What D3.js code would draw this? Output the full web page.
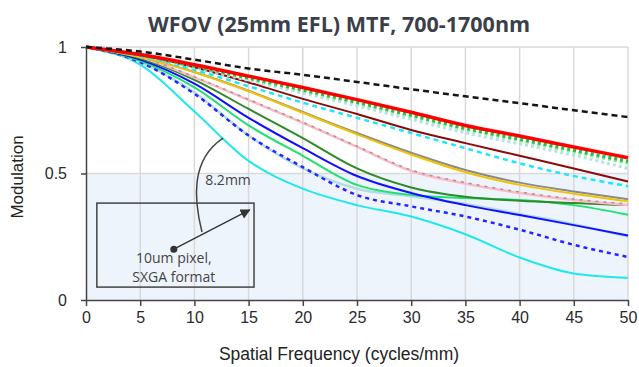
<!DOCTYPE html>
<html>
<head>
<meta charset="utf-8">
<script src="https://cdn.jsdelivr.net/npm/d3@7"></script>
<style>
  body { margin: 0; background: #fff; }
</style>
</head>
<body>
<svg id="chart" width="639" height="367"></svg>
<script>
// spatial frequency samples (cycles/mm)
const freq = [0, 5, 10, 15, 20, 25, 30, 35, 40, 45, 50];
const xTicks = [0, 5, 10, 15, 20, 25, 30, 35, 40, 45, 50];
const yTicks = [0, 0.5, 1];

// MTF curves
const diffLimit   = [1, 0.982, 0.95, 0.915, 0.89, 0.862, 0.833, 0.805, 0.778, 0.75, 0.723];
const redSolid    = [1, 0.97, 0.93, 0.885, 0.84, 0.792, 0.742, 0.69, 0.648, 0.605, 0.562];
const greenDot    = [1, 0.968, 0.925, 0.878, 0.831, 0.782, 0.731, 0.679, 0.636, 0.592, 0.548];
const ltGreenDot  = [1, 0.967, 0.922, 0.874, 0.826, 0.777, 0.725, 0.673, 0.63, 0.585, 0.54];
const ltCyanDot   = [1, 0.965, 0.918, 0.868, 0.818, 0.767, 0.714, 0.661, 0.617, 0.572, 0.52];
const maroon      = [1, 0.968, 0.92, 0.86, 0.795, 0.735, 0.672, 0.62, 0.57, 0.52, 0.468];
const cyanDash    = [1, 0.965, 0.91, 0.845, 0.78, 0.72, 0.66, 0.6, 0.54, 0.49, 0.45];
const graySolid   = [1, 0.961, 0.901, 0.827, 0.743, 0.66, 0.582, 0.514, 0.464, 0.429, 0.398];
const gold        = [1, 0.96, 0.9, 0.825, 0.74, 0.655, 0.575, 0.505, 0.455, 0.42, 0.39];
const pink        = [1, 0.96, 0.88, 0.79, 0.7, 0.605, 0.51, 0.46, 0.423, 0.395, 0.375];
const grayDash    = [1, 0.961, 0.882, 0.793, 0.703, 0.608, 0.514, 0.464, 0.427, 0.399, 0.38];
const darkGreen   = [1, 0.955, 0.87, 0.755, 0.64, 0.52, 0.445, 0.408, 0.392, 0.383, 0.375];
const blue        = [1, 0.95, 0.855, 0.72, 0.6, 0.49, 0.423, 0.375, 0.336, 0.296, 0.255];
const brightGreen = [1, 0.945, 0.84, 0.69, 0.57, 0.455, 0.415, 0.403, 0.395, 0.375, 0.337];
const lightBlue   = [1, 0.94, 0.82, 0.65, 0.52, 0.44, 0.41, 0.38, 0.34, 0.3, 0.25];
const blueDash    = [1, 0.94, 0.815, 0.65, 0.525, 0.415, 0.37, 0.33, 0.278, 0.218, 0.17];
const cyan        = [1, 0.93, 0.745, 0.55, 0.44, 0.375, 0.33, 0.26, 0.168, 0.105, 0.088];

// annotation, in data units
const boxX = [1.0, 15.5], boxY = [0.051, 0.383];
const arrowFrom = [8.1, 0.201], arrowTo = [15.1, 0.356];
const leader = [[10.7, 0.269], [9.96, 0.395], [9.6, 0.553], [12.64, 0.64]];

const series = [
  { v: cyan,        c: "#1ee8ee", w: 2 },
  { v: lightBlue,   c: "#b4dce6", w: 2.5 },
  { v: blueDash,    c: "#2424ff", w: 2.5, d: "4,4" },
  { v: brightGreen, c: "#1fe070", w: 2 },
  { v: blue,        c: "#1010ff", w: 2 },
  { v: darkGreen,   c: "#2e8b2a", w: 2 },
  { v: pink,        c: "#ffb8c4", w: 2.5 },
  { v: grayDash,    c: "#9a9a9a", w: 1.5, d: "3,5" },
  { v: graySolid,   c: "#8a8a8a", w: 2 },
  { v: gold,        c: "#f2c200", w: 2 },
  { v: cyanDash,    c: "#1ee6ff", w: 2.5, d: "5,4" },
  { v: maroon,      c: "#8b0a0a", w: 2 },
  { v: ltCyanDot,   c: "#b4e2e8", w: 3, d: "3,3" },
  { v: ltGreenDot,  c: "#94ee94", w: 3, d: "3,3" },
  { v: greenDot,    c: "#1fc24a", w: 3.5, d: "3,3" },
  { v: redSolid,    c: "#ff0000", w: 3.5 },
  { v: diffLimit,   c: "#151515", w: 2.5, d: "6,4" }
];

const svg = d3.select("#chart");
const margin = { top: 47, right: 11, bottom: 67, left: 86 };
const w = 639 - margin.left - margin.right;
const h = 367 - margin.top - margin.bottom;

const x = d3.scaleLinear().domain([0, 50]).range([0, w]);
const y = d3.scaleLinear().domain([0, 1]).range([h, 0]);

const g = svg.append("g").attr("transform", "translate(" + margin.left + "," + margin.top + ")");

// shaded area under 0.5
g.append("rect")
  .attr("x", x(0)).attr("y", y(0.5))
  .attr("width", x(50) - x(0)).attr("height", y(0) - y(0.5))
  .attr("fill", "#eef4fc");

// grid
g.selectAll(".vgrid").data(xTicks.slice(1)).enter().append("line")
  .attr("x1", d => x(d)).attr("x2", d => x(d))
  .attr("y1", y(0)).attr("y2", y(1))
  .attr("stroke", "#d9d9d9").attr("stroke-width", 1.5);
g.selectAll(".hgrid").data([0.5, 1]).enter().append("line")
  .attr("x1", x(0)).attr("x2", x(50))
  .attr("y1", d => y(d)).attr("y2", d => y(d))
  .attr("stroke", "#d9d9d9").attr("stroke-width", 1.5);

// curves
const line = d3.line()
  .x((d, i) => x(freq[i]))
  .y(d => y(d))
  .curve(d3.curveMonotoneX);

g.selectAll(".mtf").data(series).enter().append("path")
  .attr("d", d => line(d.v))
  .attr("fill", "none")
  .attr("stroke", d => d.c)
  .attr("stroke-width", d => d.w)
  .attr("stroke-dasharray", d => d.d || null);

// axes
const xAxis = g.append("g").attr("transform", "translate(0," + h + ")")
  .call(d3.axisBottom(x).tickValues(xTicks).tickSize(6).tickSizeOuter(0).tickPadding(6));
const yAxis = g.append("g")
  .call(d3.axisLeft(y).tickValues(yTicks).tickFormat(d3.format("")).tickSize(5).tickSizeOuter(0).tickPadding(14));

[xAxis, yAxis].forEach(a => {
  a.selectAll("path, line").attr("stroke", "#444").attr("stroke-width", 1.5);
  a.selectAll("text").attr("fill", "#2a2a2a")
    .style("font-family", "'Liberation Sans', Arial, sans-serif").style("font-size", "16px");
});

// annotation
const note = g.append("g");
note.append("rect")
  .attr("x", x(boxX[0])).attr("y", y(boxY[1]))
  .attr("width", x(boxX[1]) - x(boxX[0])).attr("height", y(boxY[0]) - y(boxY[1]))
  .attr("fill", "none").attr("stroke", "#444").attr("stroke-width", 1.5);

svg.append("defs").append("marker")
  .attr("id", "tri").attr("viewBox", "0 0 10 10")
  .attr("refX", 9).attr("refY", 5)
  .attr("markerWidth", 10).attr("markerHeight", 10)
  .attr("markerUnits", "userSpaceOnUse")
  .attr("orient", "auto")
  .append("path").attr("d", "M0,0 L10,5 L0,10 Z").attr("fill", "#333");

note.append("line")
  .attr("x1", x(arrowFrom[0])).attr("y1", y(arrowFrom[1]))
  .attr("x2", x(arrowTo[0])).attr("y2", y(arrowTo[1]))
  .attr("stroke", "#333").attr("stroke-width", 1.3)
  .attr("marker-end", "url(#tri)");
note.append("circle")
  .attr("cx", x(arrowFrom[0])).attr("cy", y(arrowFrom[1])).attr("r", 3.5)
  .attr("fill", "#333");

const lp = leader.map(p => [x(p[0]), y(p[1])]);
note.append("path")
  .attr("d", "M" + lp[0] + " C" + lp[1] + " " + lp[2] + " " + lp[3])
  .attr("fill", "none").attr("stroke", "#444").attr("stroke-width", 1.5);

const noteFont = "'Open Sans', 'Segoe UI', sans-serif";
note.append("text").attr("x", x(8.1)).attr("y", y(0.146))
  .attr("text-anchor", "middle").attr("fill", "#444")
  .style("font-family", noteFont).style("font-size", "14px").text("10um pixel,");
note.append("text").attr("x", x(8.1)).attr("y", y(0.071))
  .attr("text-anchor", "middle").attr("fill", "#444")
  .style("font-family", noteFont).style("font-size", "14px").text("SXGA format");
note.append("text").attr("x", x(13.1)).attr("y", y(0.455))
  .attr("text-anchor", "middle").attr("fill", "#444")
  .style("font-family", noteFont).style("font-size", "14px").text("8.2mm");

// titles
svg.append("text").attr("x", 339).attr("y", 32)
  .attr("text-anchor", "middle").attr("fill", "#3a4049")
  .style("font-family", noteFont).style("font-weight", "700").style("font-size", "21.5px")
  .text("WFOV (25mm EFL) MTF, 700-1700nm");

svg.append("text").attr("x", 339).attr("y", 360)
  .attr("text-anchor", "middle").attr("fill", "#222")
  .style("font-family", "'Liberation Sans', Arial, sans-serif").style("font-size", "17.5px")
  .text("Spatial Frequency (cycles/mm)");

svg.append("text")
  .attr("transform", "translate(23,177) rotate(-90)")
  .attr("text-anchor", "middle").attr("fill", "#222")
  .style("font-family", "'Liberation Sans', Arial, sans-serif").style("font-size", "17px")
  .text("Modulation");
</script>
</body>
</html>
